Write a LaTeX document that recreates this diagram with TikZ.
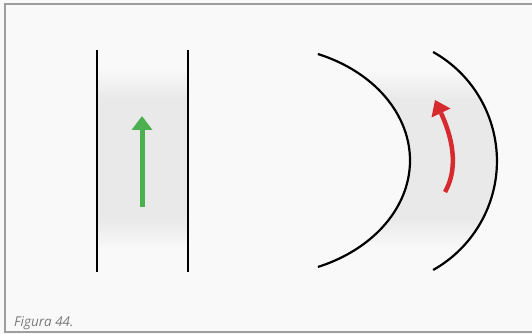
\documentclass[tikz,border=0pt]{standalone}
\usepackage{fontspec}
\newfontfamily\capfont{Open Sans}
\usetikzlibrary{arrows.meta}
\definecolor{bgc}{HTML}{F9F9F9}
\definecolor{bandc}{HTML}{E9E9E9}
\definecolor{framec}{HTML}{9E9E9E}
\definecolor{greenc}{HTML}{4CAF50}
\definecolor{redc}{HTML}{D62A2E}
\definecolor{textc}{HTML}{7A7A7A}
\pgfdeclareverticalshading{bandshade}{100bp}{color(0bp)=(bgc); color(30bp)=(bgc); color(37bp)=(bandc); color(64bp)=(bandc); color(71bp)=(bgc); color(100bp)=(bgc)}
\tikzset{
  wall/.style={line width=2.2pt, black},
  framel/.style={line width=1.5pt, framec},
  greenarrow/.style={line width=5pt, greenc, -{Triangle[length=14pt,width=20pt]}},
  redshaft/.style={line width=4.5pt, redc},
  caption/.style={font=\capfont\itshape\fontsize{13.5}{15}\selectfont, text=textc, inner sep=0pt, anchor=base west}
}
\begin{document}
\begin{tikzpicture}[x=1pt,y=1pt]
\useasboundingbox (0,0) rectangle (532,334);
\fill[bgc] (-6,-6) rectangle (540,340);
% frame
\draw[framel] (545,330) -- (5,330) -- (5,2) -- (545,2);
\node[caption] (cap) at (14,7) {Figura 44.};
% left band
\shade[shading=bandshade] (97,62) rectangle (188,284);
\coordinate (l1t) at (97,284); \coordinate (l1b) at (97,62);
\coordinate (l2t) at (188,284); \coordinate (l2b) at (188,62);
\draw[wall] (l1t) -- (l1b);
\draw[wall] (l2t) -- (l2b);
\coordinate (gtail) at (142,127); \coordinate (gtip) at (142,218);
\draw[greenarrow] (gtail) -- (gtip);
% right band
\begin{scope}
\clip (317.9,280) arc[start angle=67.8,end angle=-67.8,x radius=148,y radius=115] -- (433.1,64) arc[start angle=-60.7,end angle=60.7,radius=125] -- cycle;
\shade[shading=bandshade] (300,64) rectangle (510,282);
\end{scope}
\draw[wall] (317.9,280) arc[start angle=67.8,end angle=-67.8,x radius=148,y radius=115];
\draw[wall] (433.1,282) arc[start angle=60.7,end angle=-60.7,radius=125];
% red arrow
\coordinate (rtail) at (445,142);
\coordinate (rbase) at (441,221);
\coordinate (rtip) at (435,234);
\draw[redshaft] (rtail) .. controls (462,172) and (447,208) .. (rbase);
\fill[redc] (rtip) -- (450.5,225.5) -- (431.5,216.5) -- cycle;
\end{tikzpicture}
\end{document}
